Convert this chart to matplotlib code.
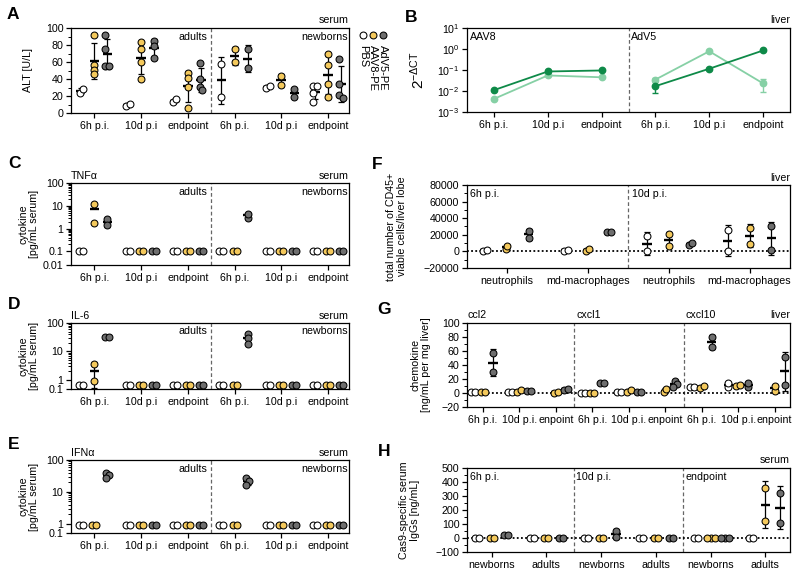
import numpy as np
import matplotlib
matplotlib.use('Agg')
import matplotlib.pyplot as plt
from matplotlib.ticker import (MultipleLocator, LogLocator, NullFormatter, FuncFormatter,
                               NullLocator, FixedLocator)

plt.rcParams['font.family'] = ['Liberation Sans', 'DejaVu Sans']
plt.rcParams['mathtext.fontset'] = 'custom'
plt.rcParams['mathtext.rm'] = 'Liberation Sans'
plt.rcParams['mathtext.it'] = 'Liberation Sans:italic'
plt.rcParams['mathtext.sf'] = 'Liberation Sans'
plt.rcParams['mathtext.default'] = 'regular'

# ------------------------------------------------------------------ data
time_labels = ['6h p.i.', '10d p.i', 'endpoint', '6h p.i.', '10d p.i', 'endpoint']
group_names = ['PBS', 'AAV8-PE', 'AdV5-PE']

# A: ALT [U/L]  (adults 6h,10d,endpoint | newborns 6h,10d,endpoint)
alt_pbs = [[24, 28], [8, 11], [13, 16], [58, 19], [29, 32], [32, 32, 24, 13]]
alt_aav8 = [[92, 56, 51, 46], [84, 75, 60, 40], [47, 41, 31, 6], [75, 60], [44, 33], [69, 57, 34, 19]]
alt_adv5 = [[92, 75, 55, 55], [85, 79, 65], [59, 40, 31, 27], [75, 53], [28, 19], [64, 34, 21, 18]]

# B: 2^-dCT, liver
b_labels = ['6h p.i.', '10d p.i', 'endpoint', '6h p.i.', '10d p.i', 'endpoint']
b_dark_aav8 = [0.011, 0.085, 0.095]
b_dark_aav8_lo = [0.011, 0.075, 0.095]
b_dark_aav8_hi = [0.011, 0.095, 0.095]
b_light_aav8 = [0.0042, 0.055, 0.045]
b_light_aav8_lo = [0.0042, 0.055, 0.045]
b_light_aav8_hi = [0.0042, 0.060, 0.045]
b_dark_adv5 = [0.017, 0.115, 0.85]
b_dark_adv5_lo = [0.008, 0.115, 0.85]
b_dark_adv5_hi = [0.030, 0.115, 0.85]
b_light_adv5 = [0.035, 0.78, 0.023]
b_light_adv5_lo = [0.028, 0.78, 0.009]
b_light_adv5_hi = [0.042, 0.78, 0.038]

# C: TNFa [pg/mL serum]
tnf_pbs = [[0.1, 0.1], [0.1, 0.1], [0.1, 0.1], [0.1, 0.1], [0.1, 0.1], [0.1, 0.1]]
tnf_aav8 = [[12, 1.8], [0.1, 0.1], [0.1, 0.1], [0.1, 0.1], [0.1, 0.1], [0.1, 0.1]]
tnf_adv5 = [[2.6, 1.4], [0.1, 0.1], [0.1, 0.1], [3.0, 4.5], [0.1, 0.1], [0.1, 0.1]]

# D: IL-6 [pg/mL serum]
il6_pbs = [[0.3, 0.3], [0.3, 0.3], [0.3, 0.3], [0.3, 0.3], [0.3, 0.3], [0.3, 0.3]]
il6_aav8 = [[3.5, 0.7], [0.3, 0.3], [0.3, 0.3], [0.3, 0.3], [0.3, 0.3], [0.3, 0.3]]
il6_adv5 = [[33, 33], [0.3, 0.3], [0.3, 0.3], [42, 30, 18], [0.3, 0.3], [0.3, 0.3]]

# E: IFNa [pg/mL serum]
ifn_pbs = [[0.8, 0.8], [0.8, 0.8], [0.8, 0.8], [0.8, 0.8], [0.8, 0.8], [0.8, 0.8]]
ifn_aav8 = [[0.8, 0.8], [0.8, 0.8], [0.8, 0.8], [0.8, 0.8], [0.8, 0.8], [0.8, 0.8]]
ifn_adv5 = [[40, 33, 27], [0.8, 0.8], [0.8, 0.8], [28, 22, 16], [0.8, 0.8], [0.8, 0.8]]

# F: CD45+ viable cells / liver lobe
cell_labels = ['neutrophils', 'md-macrophages', 'neutrophils', 'md-macrophages']
cd45_pbs = [[1000, 1500], [800, 1500], [19000, 0], [26000, 0]]
cd45_aav8 = [[2500, 7000], [500, 3000], [21000, 7000], [28500, 9000]]
cd45_adv5 = [[25000, 16000], [23000, 23500], [8000, 10500], [30000, 2000]]

# G: chemokines [ng/mL per mg liver]  (ccl2 | cxcl1 | cxcl10)
chem_labels = ['6h p.i.', '10d p.i.', 'enpoint'] * 3
chem_pbs = [[1, 1], [1.5, 1.5], [], [0.5, 0.5], [1, 1], [], [8, 9], [9, 15], []]
chem_aav8 = [[2, 1.5], [2, 4], [0.5, 1], [0.5, 0.5], [2, 5], [1, 6], [7, 10], [10, 11], [3, 10]]
chem_adv5 = [[57, 30], [2.5, 3.5], [5, 6], [15, 15], [1, 1.5], [17.5, 12.5, 9], [80, 66], [8, 14], [51, 11]]

# H: Cas9-specific serum IgGs [ng/mL]
igg_labels = ['newborns', 'adults'] * 3
igg_pbs = [[0, 0], [0, 0], [0, 0], [0, 0], [0, 0], [0, 0]]
igg_aav8 = [[0, 0], [0, 0], [0, 0], [0, 0], [0, 0, 0], [355, 120]]
igg_adv5 = [[22, 22], [0, 0], [52, 5], [0, 0], [0, 0, 0], [325, 110]]

# ------------------------------------------------------------------ layout / style
W, H = 800, 576
DPI = 100
FS = 7.7
fig = plt.figure(figsize=(W / DPI, H / DPI), dpi=DPI)

C_PBS, C_AAV, C_ADV = 'white', '#F4C95C', '#6E6E6E'
COLORS = [C_PBS, C_AAV, C_ADV]
GREEN_D, GREEN_L = '#0E8A48', '#86D0A5'
DIAM = 6.9     # marker diameter in px
COLL = 4.0     # min centre distance in px for swarm


def add_ax(l, t, r, b):
    return fig.add_axes([l / W, 1 - b / H, (r - l) / W, (b - t) / H])


def px_per_x(ax):
    x0, x1 = ax.get_xlim()
    return ax.bbox.width / (x1 - x0)


def swarm(ax, x0, ys):
    pts = ax.transData.transform(np.column_stack([np.full(len(ys), float(x0)), ys]))
    py = pts[:, 1]
    cands = sorted(np.arange(-40, 40.01, 0.5), key=lambda v: (abs(v), -v))
    placed, offs = [], []
    for y in py:
        for c in cands:
            if all((c - ox) ** 2 + (y - oy) ** 2 >= COLL ** 2 for ox, oy in placed):
                break
        placed.append((c, y))
        offs.append(c)
    offs = np.array(offs)
    offs -= (offs.max() + offs.min()) / 2
    return x0 + offs / px_per_x(ax)


def dotplot(ax, series, offsets, log=False):
    hw = 4.8 / px_per_x(ax)
    for vals_by_group, off, col in zip(series, offsets, COLORS):
        for g, vals in enumerate(vals_by_group):
            if len(vals) == 0:
                continue
            vals = np.asarray(vals, float)
            x0 = g + off
            xs = swarm(ax, x0, vals)
            ax.scatter(xs, vals, s=(DIAM * 72 / DPI) ** 2, facecolor=col,
                       edgecolor='black', linewidth=0.75, zorder=3)
            if len(vals) > 1:
                m = vals.mean()
                sd = vals.std(ddof=1)
                ax.hlines(m, x0 - hw, x0 + hw, colors='black', lw=1.7, zorder=2.5)
                if sd > 0 and (not log or m - sd > 0):
                    ax.errorbar(x0, m, yerr=sd, fmt='none', ecolor='black',
                                elinewidth=0.9, capsize=2.2, capthick=0.9, zorder=2)


def style(ax, xticks, xlabels):
    for s in ax.spines.values():
        s.set_linewidth(0.9)
    ax.set_xticks(list(xticks))
    ax.set_xticklabels(xlabels)
    ax.tick_params(axis='both', which='major', direction='out', length=3.5,
                   width=0.9, labelsize=FS, pad=2)
    ax.tick_params(axis='y', which='minor', direction='out', length=2, width=0.7)
    ax.tick_params(axis='x', which='minor', bottom=False)


def vsep(ax, x):
    ax.axvline(x, color='#666666', ls=(0, (3, 2)), lw=0.9, zorder=1)


def zero_line(ax):
    ax.axhline(0, color='black', ls=(0, (1, 1.3)), lw=1.3, zorder=1)


def top_right(ax, s):
    ax.text(1.0, 1.03, s, transform=ax.transAxes, ha='right', va='bottom', fontsize=FS)


def inner(ax, x, s, ha='right'):
    ax.text(x, 0.95, s, transform=ax.get_xaxis_transform(), ha=ha, va='top', fontsize=FS)


def panel_letter(x, y, s):
    fig.text(x / W, 1 - y / H, s, ha='left', va='top', fontsize=12.5, fontweight='bold')


logfmt = FuncFormatter(lambda v, p: f'{v:g}')


def seg_log(ax, lo, hi, t1, k):
    """log axis whose lowest decade (below 10**t1) is compressed by factor k"""
    def fwd(y):
        t = np.log10(np.clip(np.asarray(y, float), 1e-12, None))
        return np.where(t >= t1, t, t1 + (t - t1) * k)

    def inv(u):
        u = np.asarray(u, float)
        return 10 ** np.where(u >= t1, u, t1 + (u - t1) / k)

    ax.set_yscale('function', functions=(fwd, inv))
    ax.set_ylim(lo, hi)
    d0, d1 = int(round(np.log10(lo))), int(round(np.log10(hi)))
    ax.yaxis.set_major_locator(FixedLocator([10.0 ** d for d in range(d0, d1 + 1)]))
    minors = [m * 10.0 ** d for d in range(int(t1), d1) for m in range(2, 10)]
    ax.yaxis.set_minor_locator(FixedLocator(minors))
    ax.yaxis.set_major_formatter(logfmt)
    ax.yaxis.set_minor_formatter(NullFormatter())


OFF6 = [-0.28, 0.0, 0.28]

# ------------------------------------------------------------------ A
axA = add_ax(71, 28, 349, 113)
axA.set_xlim(-0.5, 5.45)
axA.set_ylim(0, 100)
axA.yaxis.set_major_locator(MultipleLocator(20))
axA.yaxis.set_minor_locator(MultipleLocator(10))
style(axA, range(6), time_labels)
vsep(axA, 2.5)
dotplot(axA, [alt_pbs, alt_aav8, alt_adv5], OFF6)
axA.set_ylabel('ALT [U/L]', fontsize=FS)
axA.yaxis.set_label_coords(-0.135, 0.5)
inner(axA, 2.42, 'adults')
inner(axA, 5.42, 'newborns')
top_right(axA, 'serum')
# legend
for i, (col, name) in enumerate(zip(COLORS, group_names)):
    xa = 1.05 + i * 0.037
    axA.scatter([xa], [0.915], s=(DIAM * 72 / DPI) ** 2, facecolor=col, edgecolor='black',
                linewidth=0.75, transform=axA.transAxes, clip_on=False, zorder=5)
    axA.text(xa, 0.80, name, rotation=270, transform=axA.transAxes, ha='center', va='top',
             fontsize=FS + 0.3)

# ------------------------------------------------------------------ B
axB = add_ax(467, 28, 790, 112)
axB.set_yscale('log')
axB.set_ylim(1e-3, 10)
axB.set_xlim(-0.5, 5.5)
axB.yaxis.set_major_locator(LogLocator(base=10, numticks=10))
axB.yaxis.set_minor_locator(NullLocator())
style(axB, range(6), b_labels)
vsep(axB, 2.5)
xl = np.arange(3)
xr = np.arange(3, 6)
for xs, y, lo, hi, col in [
        (xl, b_light_aav8, b_light_aav8_lo, b_light_aav8_hi, GREEN_L),
        (xl, b_dark_aav8, b_dark_aav8_lo, b_dark_aav8_hi, GREEN_D),
        (xr, b_light_adv5, b_light_adv5_lo, b_light_adv5_hi, GREEN_L),
        (xr, b_dark_adv5, b_dark_adv5_lo, b_dark_adv5_hi, GREEN_D)]:
    y = np.asarray(y)
    axB.errorbar(xs, y, yerr=[y - np.asarray(lo), np.asarray(hi) - y], color=col,
                 marker='o', ms=4.6, lw=1.3, elinewidth=1.0, capsize=2.2, capthick=1.0,
                 mec=col, zorder=3)
axB.set_ylabel(r'$2^{-\Delta CT}$', fontsize=11)
axB.yaxis.set_label_coords(-0.125, 0.5)
inner(axB, -0.45, 'AAV8', ha='left')
inner(axB, 2.55, 'AdV5', ha='left')
top_right(axB, 'liver')

# ------------------------------------------------------------------ C, D, E
for (t, b, lo, hi, t1, k, data, name) in [
        (183, 265, 0.01, 100, -1, 0.6, [tnf_pbs, tnf_aav8, tnf_adv5], 'TNFα'),
        (323, 389, 0.1, 100, 0, 0.33, [il6_pbs, il6_aav8, il6_adv5], 'IL-6'),
        (460, 533, 0.1, 100, 0, 0.29, [ifn_pbs, ifn_aav8, ifn_adv5], 'IFNα')]:
    ax = add_ax(71, t, 349, b)
    ax.set_xlim(-0.5, 5.45)
    seg_log(ax, lo, hi, t1, k)
    style(ax, range(6), time_labels)
    vsep(ax, 2.5)
    dotplot(ax, data, OFF6, log=True)
    ax.set_ylabel('cytokine\n[pg/mL serum]', fontsize=FS, linespacing=1.1)
    ax.yaxis.set_label_coords(-0.115, 0.5)
    inner(ax, 2.42, 'adults')
    inner(ax, 5.42, 'newborns')
    top_right(ax, 'serum')
    ax.text(0.0, 1.03, name, transform=ax.transAxes, ha='left', va='bottom', fontsize=FS)

# ------------------------------------------------------------------ F
axF = add_ax(467, 185, 790, 268)
axF.set_xlim(-0.49, 3.5)
axF.set_ylim(-20000, 80000)
axF.yaxis.set_major_locator(MultipleLocator(20000))
axF.yaxis.set_minor_locator(MultipleLocator(10000))
style(axF, range(4), cell_labels)
vsep(axF, 1.5)
zero_line(axF)
dotplot(axF, [cd45_pbs, cd45_aav8, cd45_adv5], [-0.27, 0.0, 0.27])
axF.set_ylabel('total number of CD45+\nviable cells/liver lobe', fontsize=FS, linespacing=1.1)
axF.yaxis.set_label_coords(-0.185, 0.5)
inner(axF, -0.45, '6h p.i.', ha='left')
inner(axF, 1.55, '10d p.i.', ha='left')
top_right(axF, 'liver')

# ------------------------------------------------------------------ G
axG = add_ax(467, 323, 790, 407)
axG.set_xlim(-0.44, 8.42)
axG.set_ylim(-20, 100)
axG.yaxis.set_major_locator(MultipleLocator(20))
axG.yaxis.set_minor_locator(MultipleLocator(10))
style(axG, range(9), chem_labels)
vsep(axG, 2.5)
vsep(axG, 5.5)
zero_line(axG)
dotplot(axG, [chem_pbs, chem_aav8, chem_adv5], [-0.27, 0.0, 0.27])
axG.set_ylabel('chemokine\n[ng/mL per mg liver]', fontsize=FS, linespacing=1.1)
axG.yaxis.set_label_coords(-0.11, 0.5)
for xg, s in [(-0.44, 'ccl2'), (2.55, 'cxcl1'), (5.55, 'cxcl10')]:
    axG.text(xg, 1.03, s, transform=axG.get_xaxis_transform(), ha='left', va='bottom', fontsize=FS)
top_right(axG, 'liver')

# ------------------------------------------------------------------ H
axH = add_ax(467, 468, 790, 552)
axH.set_xlim(-0.45, 5.45)
axH.set_ylim(-100, 500)
axH.yaxis.set_major_locator(MultipleLocator(100))
axH.yaxis.set_minor_locator(MultipleLocator(50))
style(axH, range(6), igg_labels)
vsep(axH, 1.5)
vsep(axH, 3.5)
zero_line(axH)
dotplot(axH, [igg_pbs, igg_aav8, igg_adv5], [-0.27, 0.0, 0.27])
axH.set_ylabel('Cas9-specific serum\nIgGs [ng/mL]', fontsize=FS, linespacing=1.1)
axH.yaxis.set_label_coords(-0.145, 0.5)
inner(axH, -0.4, '6h p.i.', ha='left')
inner(axH, 1.55, '10d p.i.', ha='left')
inner(axH, 3.55, 'endpoint', ha='left')
top_right(axH, 'serum')

# ------------------------------------------------------------------ panel letters
panel_letter(7, 7, 'A')
panel_letter(405, 10, 'B')
panel_letter(8, 156, 'C')
panel_letter(372, 157, 'F')
panel_letter(8, 297, 'D')
panel_letter(377, 302, 'G')
panel_letter(8, 437, 'E')
panel_letter(378, 444, 'H')

fig.savefig('out.png', dpi=DPI)
